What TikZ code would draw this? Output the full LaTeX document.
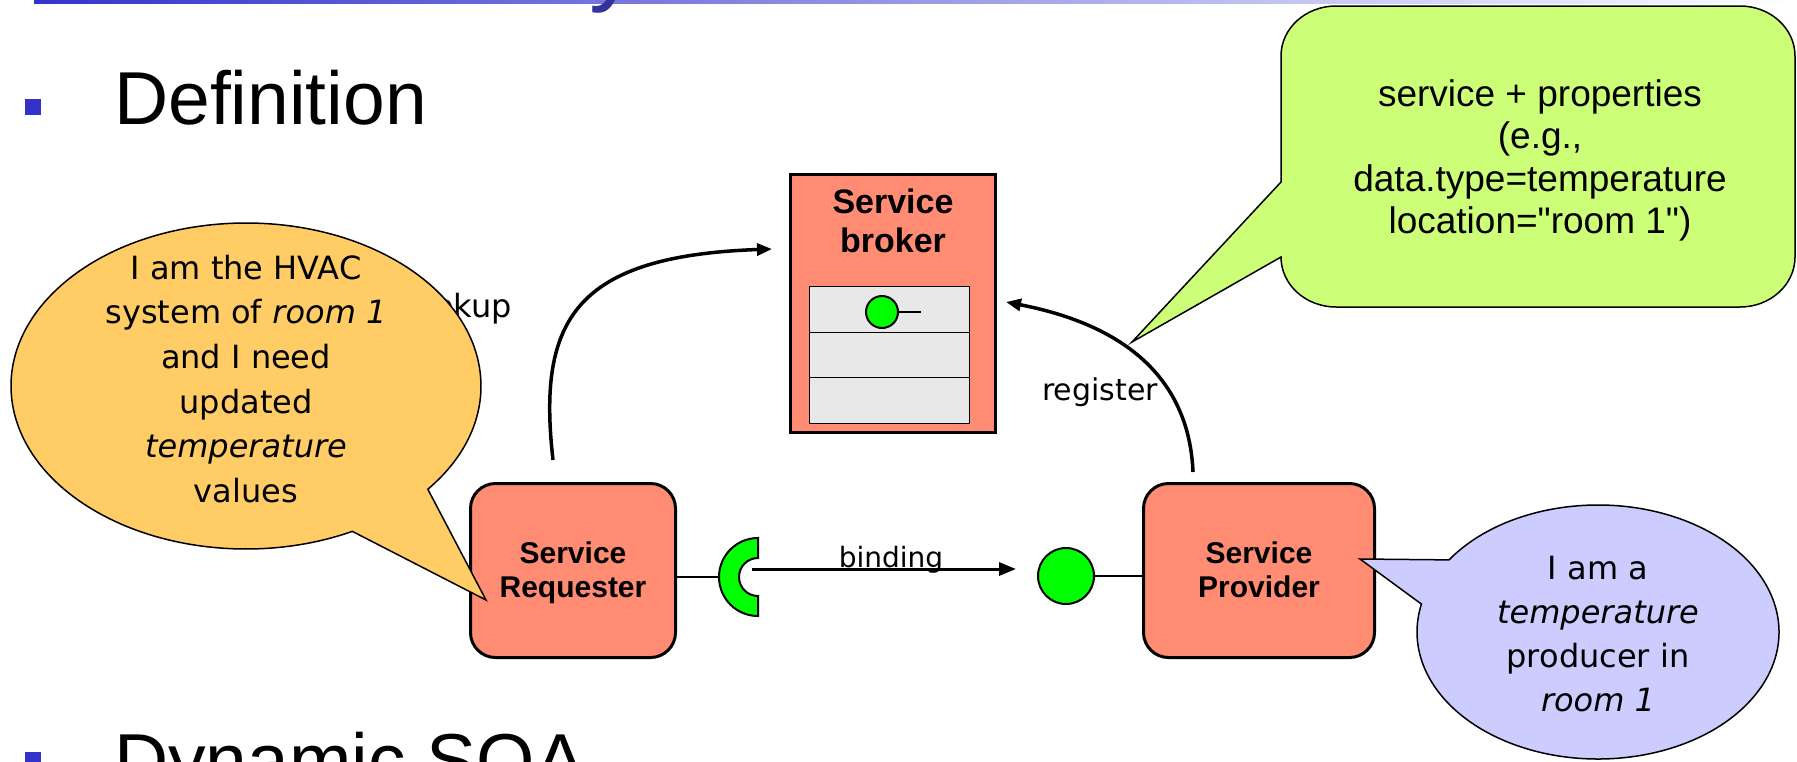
\documentclass[tikz,border=0pt]{standalone}
\usepackage{fontspec}
\setmainfont{Liberation Sans}
\newfontfamily\calloutfont[Ligatures=TeXOff]{Liberation Sans}
\newfontfamily\bubblefont{DejaVu Sans}
\newfontfamily\notefont{DejaVu Sans}
\usetikzlibrary{arrows.meta,calc}

\definecolor{salmon}{RGB}{255,140,115}
\definecolor{ifgreen}{RGB}{0,255,0}
\definecolor{lime}{RGB}{204,255,119}
\definecolor{amber}{RGB}{255,204,102}
\definecolor{lavender}{RGB}{204,204,255}
\definecolor{bulletblue}{RGB}{51,51,204}
\definecolor{titleblue}{RGB}{51,51,153}
\definecolor{tablegray}{RGB}{232,232,232}

\newcommand\pxsize[1]{\fontsize{#1}{#1}\selectfont}

\begin{document}
\begin{tikzpicture}[x=1pt,y=-1pt,
  bulletsq/.style={fill=bulletblue, minimum size=16pt, inner sep=0pt},
  heading/.style={anchor=base west, inner sep=0pt, font=\pxsize{75}},
  box/.style={draw, line width=3pt, fill=salmon, rounded corners=25pt, inner sep=0pt},
  boxlabel/.style={anchor=base, inner sep=0pt, font=\bfseries\pxsize{30}},
  tablerow/.style={draw, line width=1pt, fill=tablegray, minimum width=160pt, minimum height=46pt, inner sep=0pt},
  iface/.style={circle, draw, line width=2pt, fill=ifgreen, inner sep=0pt},
  wire/.style={line width=2pt},
  flow/.style={line width=3.5pt, -{Triangle[length=15pt,width=12pt]}},
  note/.style={anchor=base, inner sep=0pt, font=\notefont\pxsize{30}},
  bubble/.style={draw, line width=1.5pt},
  bubbletext/.style={anchor=base, inner sep=0pt, font=\bubblefont\pxsize{32}},
  calltext/.style={anchor=base, inner sep=0pt, font=\calloutfont\pxsize{37}}
]
\useasboundingbox (0,0) rectangle (1797,761);

% title rule and the tail of the title letter above it
\shade[left color=bulletblue, right color=white] (34,0) rectangle (1797,3.5);
\node[name=titley, anchor=base, inner sep=0pt, text=titleblue, font=\pxsize{100}] at (614,-8) {y};

% bullet points
\node[name=b1, bulletsq] at (33,107) {};
\node[name=def, heading] at (114,124) {Definition};
\node[name=b2, bulletsq] at (33,760) {};
\node[name=dyn, heading] at (114,786) {Dynamic SOA};

% service broker with its registry table
\node[name=broker, draw, line width=3pt, fill=salmon, minimum width=205pt, minimum height=258pt, inner sep=0pt] at (893,303.5) {};
\node[name=brokert1, anchor=base, inner sep=0pt, font=\bfseries\pxsize{34}] at (893,213) {Service};
\node[name=brokert2, anchor=base, inner sep=0pt, font=\bfseries\pxsize{34}] at (893,252) {broker};
\node[name=row1, tablerow] at (889,309) {};
\node[name=row2, tablerow] at (889,355) {};
\node[name=row3, tablerow] at (889,400.5) {};
\node[name=regsvc, iface, minimum size=32pt] at (882,312) {};
\coordinate (regstub) at (921,312);
\draw[wire] (regsvc.east) -- (regstub);

% requester and provider
\node[name=req, box, minimum width=205pt, minimum height=174pt] at (573,570.5) {};
\node[name=reqt1, boxlabel] at (573,563) {Service};
\node[name=reqt2, boxlabel] at (573,597) {Requester};
\node[name=prov, box, minimum width=231pt, minimum height=174pt] at (1259,570.5) {};
\node[name=provt1, boxlabel] at (1259,563) {Service};
\node[name=provt2, boxlabel] at (1259,597) {Provider};

% required interface (socket) of the requester
\coordinate (sockc) at (758,577);
\coordinate (sockL) at (719,577);
\draw[wire] (req.east |- sockc) -- (sockL);
\filldraw[draw=black, line width=2pt, fill=ifgreen]
  (758,538) arc[start angle=270, end angle=90, radius=39]
  -- (758,596) arc[start angle=90, end angle=270, radius=19] -- cycle;

% provided interface of the provider
\node[name=provsvc, iface, minimum size=56pt] at (1066,576) {};
\draw[wire] (provsvc.east) -- (prov.west |- provsvc.east);

% binding
\coordinate (bindS) at (752,569);
\coordinate (bindE) at (1016,569);
\node[name=bindlbl, note, font=\notefont\pxsize{28}] at (891,567) {binding};
\draw[line width=3pt, -{Triangle[length=17pt,width=13pt]}] (bindS) -- (bindE);

% lookup
\coordinate (lookS) at (553,460);
\coordinate (lookE) at (772,249);
\node[name=looklbl, note, anchor=base east, font=\notefont\pxsize{32}] at (512,317) {lookup};
\draw[flow] (lookS) .. controls (537,320) and (575,256) .. (lookE);

% requester's speech bubble
\coordinate (yc) at (246,386);
\coordinate (ytip) at (486,600);
\filldraw[bubble, fill=amber] ($(yc)+(39.3:235 and 163)$)
  arc[start angle=39.3, end angle=-296.9, x radius=235, y radius=163] -- (ytip) -- cycle;
\node[name=ya, bubbletext] at (246,279) {I am the HVAC};
\node[name=yb, bubbletext] at (246,323) {system of \textit{room 1}};
\node[name=yc1, bubbletext] at (246,368) {and I need};
\node[name=yd, bubbletext] at (246,413) {updated};
\node[name=ye, bubbletext] at (246,457) {\textit{temperature}};
\node[name=yf, bubbletext] at (246,502) {values};

% provider's speech bubble
\coordinate (pc) at (1598,632);
\coordinate (ptip) at (1360,559);
\filldraw[bubble, fill=lavender] ($(pc)+(214.6:181 and 127)$)
  arc[start angle=214.6, end angle=552.7, x radius=181, y radius=127] -- (ptip) -- cycle;
\node[name=pa, bubbletext] at (1598,579) {I am a};
\node[name=pb, bubbletext] at (1598,623) {\textit{temperature}};
\node[name=pcl, bubbletext] at (1598,667) {producer in};
\node[name=pd, bubbletext] at (1598,711) {\textit{room 1}};

% registration callout
\coordinate (gtip) at (1132,342);
\filldraw[bubble, fill=lime] (1281,182) -- (1281,56)
  arc[start angle=180, end angle=270, x radius=55, y radius=50] -- (1740,6)
  arc[start angle=270, end angle=360, x radius=55, y radius=50] -- (1795,257)
  arc[start angle=0, end angle=90, x radius=55, y radius=50] -- (1336,307)
  arc[start angle=90, end angle=180, x radius=55, y radius=50] -- (gtip) -- cycle;
\node[name=ga, calltext] at (1540,106) {service + properties};
\node[name=gb, calltext] at (1540,148) {(e.g.,};
\node[name=gcl, calltext] at (1540,191) {data.type=temperature};
\node[name=gd, calltext] at (1540,233) {location="room 1")};

% register
\coordinate (regS) at (1193,472);
\coordinate (regE) at (1006,302);
\node[name=reglbl, note] at (1100,400) {register};
\draw[flow] (regS) .. controls (1190,400) and (1150,330) .. (regE);
\end{tikzpicture}
\end{document}
